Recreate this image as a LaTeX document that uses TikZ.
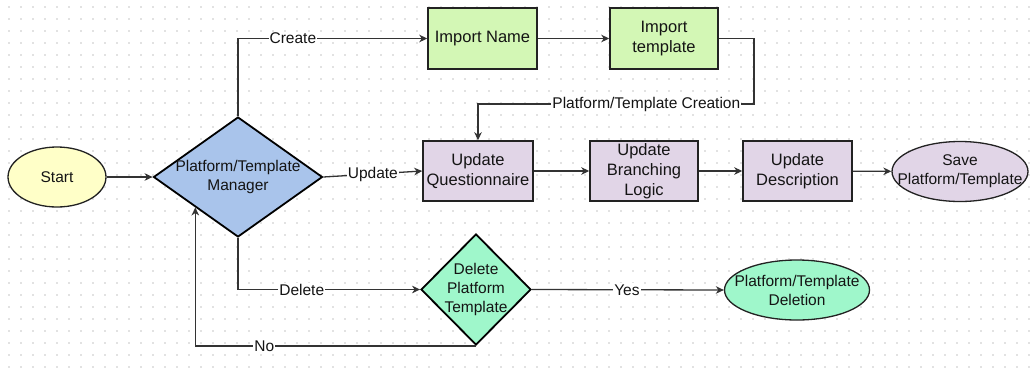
\documentclass[tikz,border=0pt]{standalone}
\usepackage{fontspec}
\setmainfont{Liberation Sans}
\usetikzlibrary{shapes.geometric,arrows.meta,calc}
\definecolor{startc}{HTML}{FFFFC8}
\definecolor{manc}{HTML}{A9C4EB}
\definecolor{greenc}{HTML}{D3F7B5}
\definecolor{purpc}{HTML}{E1D5E7}
\definecolor{mintc}{HTML}{9FF7CB}
\definecolor{linec}{HTML}{333333}
\definecolor{borderc}{HTML}{222222}
\definecolor{dotc}{HTML}{E2E2E2}
\definecolor{txtc}{HTML}{141414}
\begin{document}
\begin{tikzpicture}[x=1pt,y=-1pt,
  txt/.style={align=center,text=txtc,font={\fontsize{15.5}{19}\selectfont}},
  boxtxt/.style={align=center,text=txtc,font={\fontsize{16.5}{20}\selectfont}},
  stepbox/.style={rectangle,draw=borderc,line width=1.5pt,inner sep=0pt,boxtxt},
  ell/.style={ellipse,draw=borderc,line width=1.3pt,inner sep=0pt},
  dia/.style={diamond,draw=black,line width=1.8pt,inner sep=0pt},
  conn/.style={draw=linec,line width=1.3pt},
  arr/.style={conn,-{Stealth[length=8pt,width=7.5pt,inset=2.5pt]}},
  lbl/.style={txt,fill=white,inner sep=1pt},
  griddot/.style={draw=dotc,line width=1.5pt,dash pattern=on 1.5pt off 10.5pt}
]
\useasboundingbox (0,0) rectangle (1030,378);
\fill[white] (0,0) rectangle (1030,378);
\foreach \y in {7,19,...,367} \draw[griddot] (8.25,\y) -- (1030,\y);

% nodes
\node[ell,fill=startc,minimum width=98pt,minimum height=60pt,txt] (start) at (57,177) {Start};
\node[dia,fill=manc,minimum width=169pt,minimum height=120pt,
      label={[txt]center:{Platform/Template\\Manager}}] (man) at (238,177) {};
\node[stepbox,fill=greenc,minimum width=109pt,minimum height=61pt] (in) at (482.5,38.5) {Import Name};
\node[stepbox,fill=greenc,minimum width=108pt,minimum height=61pt] (it) at (664,38.5) {Import\\template};
\node[stepbox,fill=purpc,minimum width=110pt,minimum height=60pt] (uq) at (478,171) {Update\\Questionnaire};
\node[stepbox,fill=purpc,minimum width=108pt,minimum height=60pt] (ub) at (644,171) {Update\\Branching\\Logic};
\node[stepbox,fill=purpc,minimum width=109pt,minimum height=60pt] (ud) at (797.5,171) {Update\\Description};
\node[ell,fill=purpc,minimum width=136pt,minimum height=60pt,
      label={[txt]center:{Save\\Platform/Template}}] (save) at (960,171.5) {};
\node[dia,fill=mintc,minimum width=110pt,minimum height=111pt,
      label={[txt]center:{Delete\\Platform\\Template}}] (del) at (476,289.5) {};
\node[ell,fill=mintc,minimum width=145pt,minimum height=60pt,
      label={[txt]center:{Platform/Template\\Deletion}}] (dele) at (797,290) {};
\coordinate (c1) at (754,104);

% connectors
\draw[arr] (start) -- (man);
\draw[arr] (man.north) |- node[lbl,pos=0.645]{Create} (in.west);
\draw[arr] (in) -- (it);
\draw[arr] (it.east) -| (c1) -| node[lbl,pos=0.195]{Platform/Template Creation} (uq.north);
\draw[arr] (man.east) -- node[lbl,pos=0.5]{Update} (uq.west);
\draw[arr] (uq) -- (ub);
\draw[arr] (ub) -- (ud);
\draw[arr] (ud) -- (save);
\draw[arr] (man.south) |- node[lbl,pos=0.675]{Delete} (del.west);
\draw[arr] (del.east) -- node[lbl,pos=0.495]{Yes} (dele.west);
\draw[arr] (del.south) -| node[lbl,pos=0.377]{No} ($(man.west)!0.5!(man.south)$);
\end{tikzpicture}
\end{document}
